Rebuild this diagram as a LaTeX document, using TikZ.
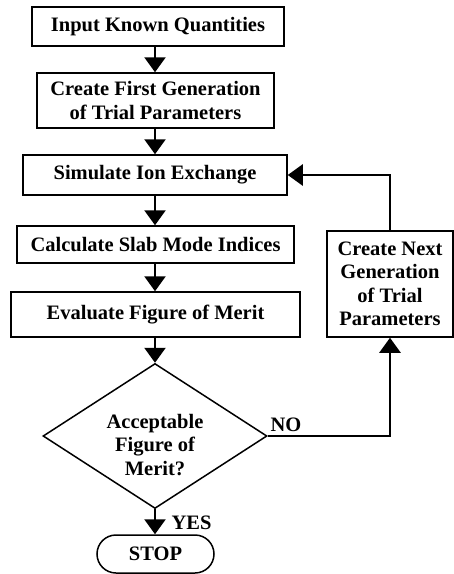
\documentclass[tikz,border=0pt]{standalone}
\usepackage{fontspec}
\setmainfont{Liberation Serif}
\usetikzlibrary{arrows.meta,shapes.geometric,shapes.misc}
\begin{document}
\begin{tikzpicture}[x=1pt,y=-1pt,
  font=\fontsize{20.5}{23.5}\selectfont\bfseries,
  box/.style={draw,line width=1.5pt,rectangle,inner sep=0pt,align=center},
  dia/.style={draw,line width=1.5pt,diamond,inner sep=0pt,align=center},
  term/.style={draw,line width=1.5pt,rounded rectangle,inner sep=0pt,align=center},
  conn/.style={line width=2.4pt,-{Triangle[width=21pt,length=15pt]}},
  line/.style={line width=2.4pt}]
\useasboundingbox (0,0) rectangle (454,574);
\node[box,minimum width=252pt,minimum height=39pt] (b1) at (158,26.5) {Input Known Quantities};
\node[box,minimum width=237pt,minimum height=55pt] (b2) at (155.5,100.5) {Create First Generation\\of Trial Parameters};
\node[box,minimum width=264pt,minimum height=40pt] (b3) at (155,175) {Simulate Ion Exchange};
\node[box,minimum width=277pt,minimum height=37pt] (b4) at (155.5,244.5) {Calculate Slab Mode Indices};
\node[box,minimum width=289pt,minimum height=45pt] (b5) at (155.5,314.5) {Evaluate Figure of Merit};
\node[dia,minimum width=224pt,minimum height=145pt] (d) at (155,436) {};
\node[align=center,inner sep=0pt] (dt) at (155,445) {Acceptable\\Figure of\\Merit?};
\node[term,minimum width=117pt,minimum height=38pt] (stop) at (155.5,554) {STOP};
\node[box,minimum width=126pt,minimum height=106pt] (nx) at (390,284) {Create Next\\Generation\\of Trial\\Parameters};
\coordinate (c1) at (155,46);
\draw[conn] (c1) -- (c1 |- b2.north);
\draw[conn] (b2.south -| c1) -- (c1 |- b3.north);
\draw[conn] (b3.south -| c1) -- (c1 |- b4.north);
\draw[conn] (b4.south -| c1) -- (c1 |- b5.north);
\draw[conn] (b5.south -| d.north) -- (d.north);
\draw[conn] (d.south) -- (d.south |- stop.north);
\draw[conn] (d.east) -| (nx.south);
\draw[conn] (nx.north) |- (b3.east);
\node[anchor=west] (no) at (267,425) {NO};
\node[anchor=west] (yes) at (168,523) {YES};
\end{tikzpicture}
\end{document}
